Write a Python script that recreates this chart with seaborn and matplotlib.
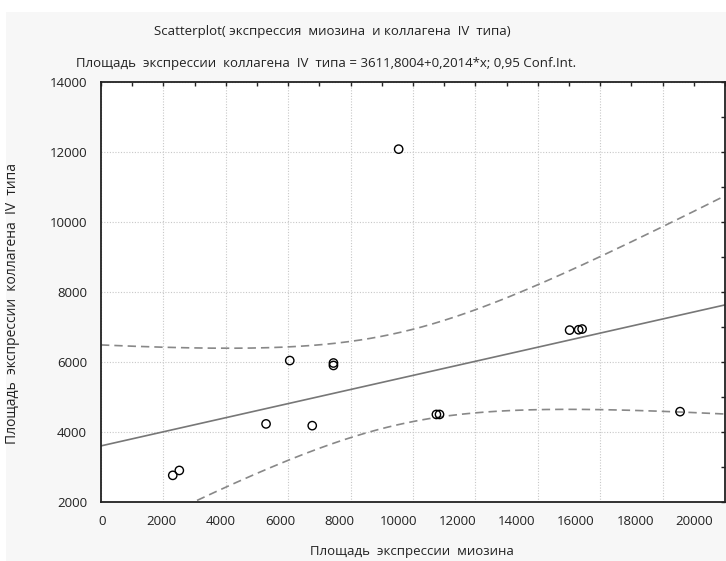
import numpy as np
import pandas as pd
import matplotlib
matplotlib.use("Agg")
import matplotlib.pyplot as plt
import matplotlib.transforms as mtransforms
from matplotlib.patches import Rectangle
import seaborn as sns

# Values
myosin = [2300, 2510, 5290, 6050, 6770, 7450, 7450, 9540, 10750, 10850, 15020, 15310, 15420, 18560]
collagen = [2770, 2910, 4240, 6050, 4190, 5980, 5910, 12090, 4510, 4510, 6920, 6930, 6950, 4590]
intercept = 3611.8004
slope = 0.2014
t_crit = 2.179  # t(0.975, df=12)
x_ticks = [0, 2000, 4000, 6000, 8000, 10000, 12000, 14000, 16000, 18000, 20000]
y_ticks = [2000, 4000, 6000, 8000, 10000, 12000, 14000]

df = pd.DataFrame({"myosin": myosin, "collagen": collagen})

# regression line from the stated coefficients, 95% band from the points
n = len(df)
x_mean = df["myosin"].mean()
sxx = ((df["myosin"] - x_mean) ** 2).sum()
resid = df["collagen"] - (intercept + slope * df["myosin"])
s = np.sqrt((resid ** 2).sum() / (n - 2))
xs = np.linspace(0, 20000, 300)
ys = intercept + slope * xs
hw = t_crit * s * np.sqrt(1 / n + (xs - x_mean) ** 2 / sxx)

sns.set_style("white")
plt.rcParams["font.family"] = ["Open Sans", "DejaVu Sans"]

fig = plt.figure(figsize=(7.26, 5.61), dpi=100, facecolor="white")
fig.patches.append(Rectangle((6 / 726, 0), 1, 1 - 12 / 561, transform=fig.transFigure,
                             facecolor="#f7f7f7", edgecolor="none", zorder=-10))
ax = fig.add_axes([101 / 726, 1 - 502.3 / 561, (725 - 101) / 726, (502.3 - 82.3) / 561])
ax.set_facecolor("white")

ax.plot(xs, ys, color="#777777", lw=1.2, zorder=2)
ax.plot(xs, ys + hw, color="#888888", lw=1.2, ls=(0, (5, 3)), zorder=2)
ax.plot(xs, ys - hw, color="#888888", lw=1.2, ls=(0, (5, 3)), zorder=2)
sns.scatterplot(data=df, x="myosin", y="collagen", ax=ax, s=36,
                facecolor="none", edgecolor="black", linewidth=1.0, zorder=3)

ax.set_xlim(0, 20000)
ax.set_ylim(2000, 14000)
ax.set_xticks(x_ticks)
ax.set_yticks(y_ticks)
ax.set_xticks(np.arange(1000, 20000, 2000), minor=True)
ax.set_yticks(np.arange(3000, 14000, 2000), minor=True)
ax.set_xticklabels([str(v) for v in x_ticks])
ax.set_yticklabels([str(v) for v in y_ticks])
ax.tick_params(which="both", direction="in", length=3, width=1, color="#222222",
               top=True, right=True, labelsize=9.5, labelcolor="#222222")
ax.tick_params(axis="x", pad=9)
ax.tick_params(axis="y", pad=10)
ax.grid(True, which="major", ls=(0, (1, 1.5)), color="#c8c8c8", lw=0.8)
for sp in ax.spines.values():
    sp.set_visible(True)
    sp.set_color("#222222")
    sp.set_linewidth(1.3)

# Statistica squeezes the x labels slightly to the left
for v, lab in zip(x_ticks, ax.get_xticklabels()):
    dx = 1.5 - v * 0.0016
    lab.set_transform(lab.get_transform() + mtransforms.ScaledTranslation(dx / 100, 0, fig.dpi_scale_trans))

ax.set_xlabel("")
ax.set_ylabel("")
fig.text(332 / 726, 1 - 31 / 561, "Scatterplot( экспрессия  миозина  и коллагена  IV  типа)",
         ha="center", va="center", fontsize=9.5, color="#222222")
fig.text(326 / 726, 1 - 63 / 561,
         "Площадь  экспрессии  коллагена  IV  типа = 3611,8004+0,2014*x; 0,95 Conf.Int.",
         ha="center", va="center", fontsize=9.5, color="#222222")
fig.text(412 / 726, 1 - 552 / 561, "Площадь  экспрессии  миозина",
         ha="center", va="center", fontsize=9.5, color="#222222")
fig.text(13 / 726, 1 - 304 / 561, "Площадь  экспрессии  коллагена  IV  типа",
         ha="center", va="center", rotation=90, fontsize=10, color="#222222")

fig.savefig("out.png", dpi=100, facecolor=fig.get_facecolor())
